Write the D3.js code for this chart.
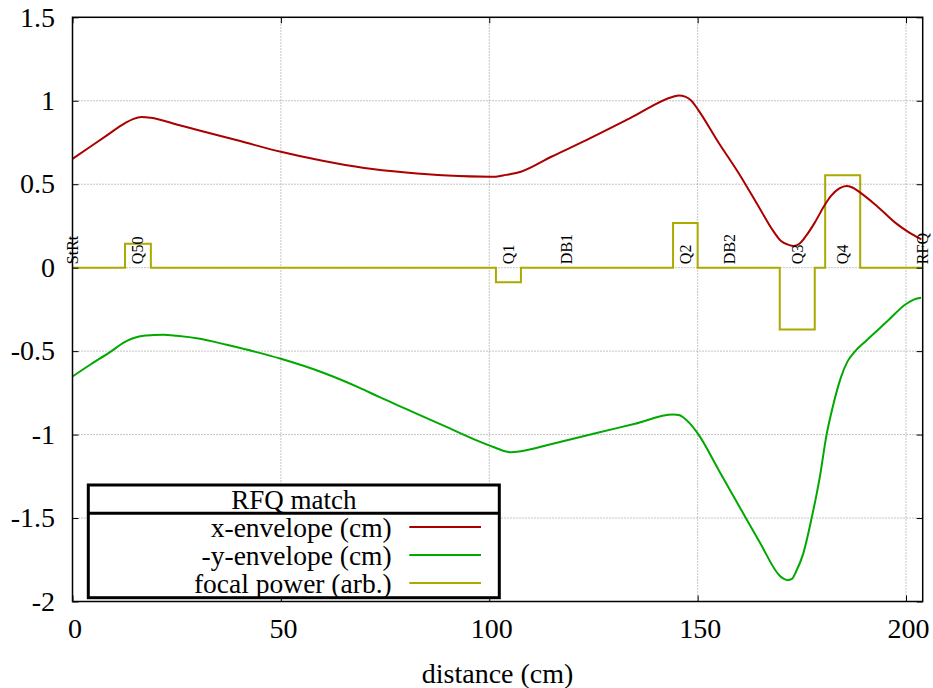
<!DOCTYPE html>
<html lang="en">
<head>
    <meta charset="UTF-8">
    <title>RFQ match</title>
    <script src="https://cdn.jsdelivr.net/npm/d3@7"></script>
    <style>
        body { margin: 0; background: white; }
        text { font-family: "Liberation Serif", "DejaVu Serif", serif; }
        .grid line { stroke: #8a8a8a; stroke-width: 1; stroke-dasharray: 1,2; }
        .curve { fill: none; stroke-width: 2; }
    </style>
</head>
<body>
<script>
    const width = 933;
    const height = 688;

    // x-envelope (cm) vs distance (cm)
    const xEnvS = [0, 4, 8, 12.6, 14.5, 16.6, 18.8, 25, 30, 40, 50, 60, 70, 80, 90, 100, 101.6, 104, 107.6,
        115, 123.3, 133.7, 144.1, 145.5, 147, 148.5, 150, 155, 160, 165, 168, 170, 172, 173, 174.5, 176, 178.1,
        180.6, 182, 184, 185.7, 187, 189, 193, 197.7, 200.5, 203.7];
    const xEnvV = [0.652, 0.72, 0.788, 0.866, 0.89, 0.903, 0.898, 0.858, 0.825, 0.76, 0.694, 0.64, 0.597, 0.57, 0.552, 0.545, 0.545, 0.556, 0.575,
        0.666, 0.764, 0.894, 1.024, 1.032, 1.025, 1.0, 0.95, 0.75, 0.56, 0.35, 0.225, 0.16, 0.135, 0.13, 0.145, 0.19, 0.27,
        0.38, 0.43, 0.475, 0.49, 0.482, 0.45, 0.37, 0.264, 0.215, 0.17];

    // -y-envelope (cm)
    const yEnvS = [0, 4.5, 9, 12.6, 14.2, 16, 17.8, 19.5, 21.8, 25, 30.6, 37, 44.2, 50, 60, 68.9, 73.7, 80, 90, 97.7,
        100.1, 101.6, 103.5, 105.3, 107.6, 115, 125, 135, 144.1, 145.7, 146.5, 148, 150.1, 155, 161.7, 165, 169.7,
        170.5, 171.6, 172.6, 173.7, 175.3, 177.3, 179.3, 180.9, 182.4, 184.4, 186, 187.6, 190.5, 195.3, 200.1, 202, 203.6];
    const yEnvV = [-0.652, -0.577, -0.506, -0.445, -0.426, -0.412, -0.406, -0.403, -0.402, -0.408, -0.426, -0.462, -0.506, -0.546, -0.628, -0.72, -0.776, -0.846, -0.957, -1.042,
        -1.066, -1.08, -1.098, -1.106, -1.1, -1.056, -0.995, -0.935, -0.88, -0.884, -0.896, -0.93, -0.996, -1.21, -1.506, -1.65, -1.846,
        -1.862, -1.872, -1.865, -1.816, -1.716, -1.506, -1.256, -1.006, -0.836, -0.656, -0.56, -0.506, -0.436, -0.326, -0.216, -0.19, -0.18];

    // focal power (arb.), step function starting at each edge
    const focalS = [0, 12.6, 18.8, 101.6, 107.6, 144.1, 150.0, 169.7, 178.1, 180.6, 189.0, 203.9];
    const focalV = [0, 0.144, 0, -0.088, 0, 0.268, 0, -0.37, 0, 0.554, 0, 0];

    // element labels
    const elemNames = ["StRt", "Q50", "Q1", "DB1", "Q2", "DB2", "Q3", "Q4", "RFQ"];
    const elemPos = [0, 15.7, 104.6, 118.6, 147.05, 157.6, 173.9, 184.8, 204];

    const xTicks = [0, 50, 100, 150, 200];
    const yTicks = [-2, -1.5, -1, -0.5, 0, 0.5, 1, 1.5];

    const seriesNames = ["x-envelope (cm)", "-y-envelope (cm)", "focal power (arb.)"];
    const seriesColors = ["#aa0000", "#00a800", "#aaaa00"];

    const margin = {left: 72.5, right: 10.3, top: 17.3, bottom: 86.5};
    const pw = width - margin.left - margin.right;
    const ph = height - margin.top - margin.bottom;

    const x = d3.scaleLinear().domain([0, 204]).range([margin.left, margin.left + pw]);
    const y = d3.scaleLinear().domain([-2, 1.5]).range([margin.top + ph, margin.top]);

    const svg = d3.select("body").append("svg")
            .attr("width", width).attr("height", height)
            .attr("font-family", "Liberation Serif, DejaVu Serif, serif");

    // grid
    const grid = svg.append("g").attr("class", "grid");
    grid.selectAll("line.gx").data(xTicks).enter().append("line")
        .attr("x1", d => x(d)).attr("x2", d => x(d))
        .attr("y1", y(-2)).attr("y2", y(1.5));
    grid.selectAll("line.gy").data(yTicks).enter().append("line")
        .attr("y1", d => y(d)).attr("y2", d => y(d))
        .attr("x1", x(0)).attr("x2", x(204));

    // curves
    const line = d3.line().x(d => x(d[0])).y(d => y(d[1])).curve(d3.curveMonotoneX);
    const stepLine = d3.line().x(d => x(d[0])).y(d => y(d[1])).curve(d3.curveStepAfter);

    svg.append("path").attr("class", "curve")
        .attr("stroke", seriesColors[2])
        .attr("d", stepLine(d3.zip(focalS, focalV)));
    svg.append("path").attr("class", "curve")
        .attr("stroke", seriesColors[0])
        .attr("d", line(d3.zip(xEnvS, xEnvV)));
    svg.append("path").attr("class", "curve")
        .attr("stroke", seriesColors[1])
        .attr("d", line(d3.zip(yEnvS, yEnvV)));

    // element labels (rotated)
    svg.selectAll("text.elem").data(elemNames).enter().append("text")
        .attr("class", "elem")
        .attr("transform", (d, i) => `translate(${x(elemPos[i])},${y(0) - 3.5}) rotate(-90)`)
        .attr("dy", "0.33em")
        .attr("font-size", "16px")
        .text(d => d);

    // axes with inward ticks on all sides
    const tickLen = 6;
    const axisLeft = d3.axisRight(y).tickValues(yTicks).tickSize(tickLen).tickFormat("");
    const axisRight = d3.axisLeft(y).tickValues(yTicks).tickSize(tickLen).tickFormat("");
    const axisBottom = d3.axisTop(x).tickValues(xTicks).tickSize(tickLen).tickFormat("");
    const axisTop = d3.axisBottom(x).tickValues(xTicks).tickSize(tickLen).tickFormat("");
    [
        [axisLeft, `translate(${x(0)},0)`],
        [axisRight, `translate(${x(204)},0)`],
        [axisBottom, `translate(0,${y(-2)})`],
        [axisTop, `translate(0,${y(1.5)})`]
    ].forEach(([ax, tr]) => {
        const g = svg.append("g").attr("transform", tr).call(ax);
        g.attr("font-family", null);
        g.select(".domain").remove();
        g.selectAll("line").attr("stroke", "black").attr("stroke-width", 1);
    });

    // border
    svg.append("rect")
        .attr("x", x(0)).attr("y", y(1.5))
        .attr("width", pw).attr("height", ph)
        .attr("fill", "none").attr("stroke", "black").attr("stroke-width", 1.5);

    // tick labels
    svg.selectAll("text.ytl").data(yTicks).enter().append("text")
        .attr("x", 55).attr("y", d => y(d)).attr("dy", "0.33em")
        .attr("text-anchor", "end").attr("font-size", "28px")
        .text(d => String(d));
    svg.selectAll("text.xtl").data(xTicks).enter().append("text")
        .attr("x", d => x(d) + 2.5).attr("y", 638)
        .attr("text-anchor", "middle").attr("font-size", "28px")
        .text(d => String(d));

    svg.append("text")
        .attr("x", margin.left + pw / 2).attr("y", 683)
        .attr("text-anchor", "middle").attr("font-size", "28px")
        .text("distance (cm)");

    // legend
    const lg = svg.append("g");
    lg.append("rect")
        .attr("x", 88.3).attr("y", 485).attr("width", 411).attr("height", 112.7)
        .attr("fill", "white").attr("stroke", "black").attr("stroke-width", 3);
    lg.append("line")
        .attr("x1", 88.3).attr("x2", 499.3).attr("y1", 513.3).attr("y2", 513.3)
        .attr("stroke", "black").attr("stroke-width", 3);
    lg.append("text")
        .attr("x", 293.8).attr("y", 508.5)
        .attr("text-anchor", "middle").attr("font-size", "27px")
        .text("RFQ match");
    seriesNames.forEach((name, i) => {
        const by = 537 + i * 28;
        lg.append("text")
            .attr("x", 391.7).attr("y", by)
            .attr("text-anchor", "end").attr("font-size", "27.5px")
            .text(name);
        lg.append("line")
            .attr("x1", 409.3).attr("x2", 481)
            .attr("y1", by - 10).attr("y2", by - 10)
            .attr("stroke", seriesColors[i]).attr("stroke-width", 2);
    });
</script>

</body>
</html>
